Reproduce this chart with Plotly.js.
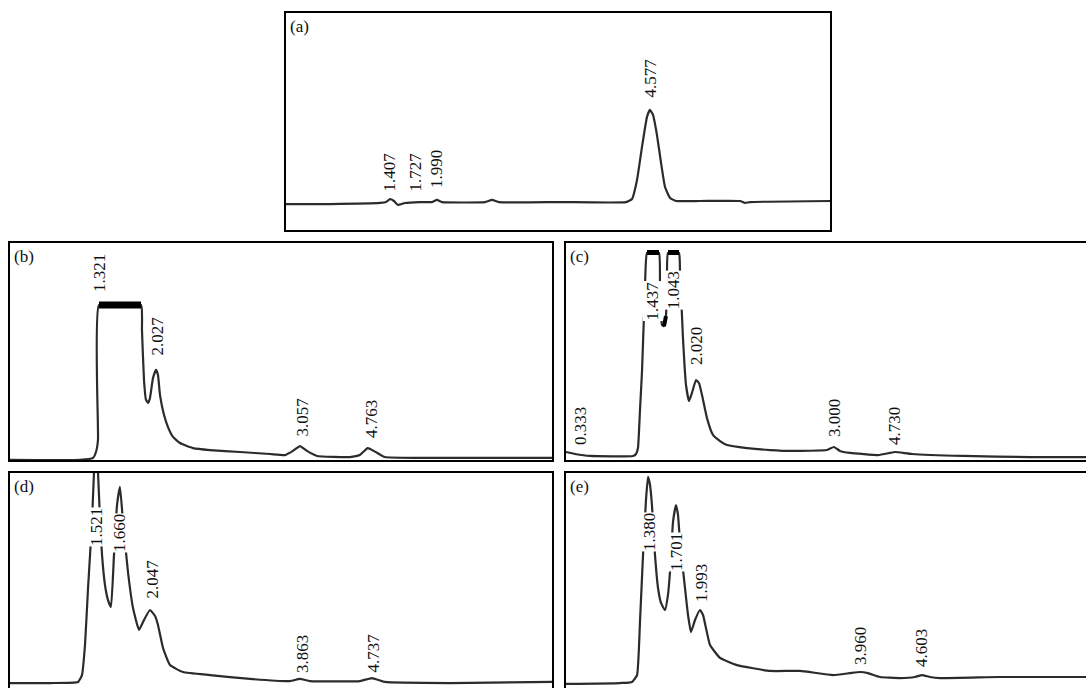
<!DOCTYPE html>
<html>
<head>
<meta charset="utf-8">
<script src="https://cdn.plot.ly/plotly-3.0.1.min.js"></script>
<style>html,body{margin:0;padding:0;background:#fff;}#chart{width:1086px;height:688px;}</style>
</head>
<body>
<div id="chart"></div>
<script>
// ---- Data (x: retention time scale, min; y: detector response, % of panel full scale) ----
// Panel (a)
const aTime = [0, 0.577, 1.218, 1.295, 1.346, 1.397, 1.449, 1.538, 1.731, 1.885, 1.949, 2.013, 2.564, 2.654, 2.744, 3.526, 4.372, 4.449, 4.513, 4.577, 4.641, 4.679, 4.718, 4.769, 4.821, 4.872, 4.936, 5.013, 5.321, 5.833, 5.897, 5.962, 7.0];
const aSignal = [12.3, 12.3, 12.8, 13.2, 14.6, 13.7, 11.9, 12.8, 13.2, 13.2, 14.2, 13.2, 13.2, 14.2, 13.2, 13.2, 13.2, 14.6, 23.3, 38.4, 52.1, 55.3, 53.0, 43.8, 31.1, 20.1, 15.1, 13.7, 13.7, 13.7, 12.8, 13.2, 13.7];
const aLabels = ["1.407", "1.727", "1.990", "4.577"];
const aLabelX = [1.346, 1.667, 1.949, 4.692];
const aLabelY = [17.8, 17.4, 19.2, 60.7];

// Panel (b)
const bTime = [0, 0.914, 1.081, 1.119, 1.145, 1.158, 1.428, 1.699, 1.711, 1.737, 1.763, 1.789, 1.814, 1.853, 1.892, 1.917, 1.943, 1.995, 2.046, 2.110, 2.200, 2.368, 2.586, 2.972, 3.358, 3.551, 3.654, 3.744, 3.834, 3.963, 4.384, 4.513, 4.616, 4.719, 4.835, 5.285, 6.314, 7.0];
const bSignal = [0.5, 0.5, 1.4, 4.1, 9.6, 71.2, 71.2, 71.2, 59.8, 37.0, 27.9, 26.5, 28.8, 37.9, 41.6, 39.3, 30.1, 21.0, 15.5, 11.0, 8.2, 5.9, 5.0, 4.1, 3.2, 2.7, 4.6, 6.8, 4.6, 2.3, 1.8, 2.7, 5.9, 4.1, 1.8, 1.4, 1.4, 1.4];
const bSatTime = [1.158, 1.428, 1.699];
const bSatSignal = [71.2, 71.2, 71.2];
const bLabels = ["1.321", "2.027", "3.057", "4.763"];
const bLabelX = [1.158, 1.917, 3.770, 4.658];
const bLabelY = [76.7, 47.9, 11.0, 10.0];

// Panel (c)
const cTime = [0.013, 0.129, 0.322, 0.875, 0.914, 0.939, 0.965, 0.991, 1.029, 1.055, 1.132, 1.210, 1.222, 1.248, 1.274, 1.299, 1.312, 1.325, 1.402, 1.467, 1.480, 1.518, 1.557, 1.596, 1.634, 1.686, 1.724, 1.763, 1.827, 1.904, 1.995, 2.085, 2.342, 2.638, 2.934, 3.371, 3.461, 3.538, 3.667, 4.028, 4.182, 4.246, 4.465, 5.122, 5.984, 6.704];
const cSignal = [4.1, 3.2, 2.3, 2.3, 3.2, 5.9, 23.3, 41.1, 79.0, 95.0, 95.4, 95.0, 78.1, 62.1, 61.6, 66.2, 78.1, 95.0, 95.4, 95.0, 86.8, 56.2, 34.7, 27.4, 31.1, 37.0, 35.6, 30.1, 19.6, 11.9, 9.1, 7.3, 5.9, 5.0, 4.6, 5.0, 6.4, 4.6, 3.7, 2.7, 3.7, 4.1, 3.2, 2.3, 1.8, 1.8];
const cSat1Time = [1.055, 1.132, 1.210];
const cSat1Signal = [95.2, 95.4, 95.2];
const cSat2Time = [1.325, 1.402, 1.467];
const cSat2Signal = [95.2, 95.4, 95.2];
const cDipTime = [1.274, 1.299];
const cDipSignal = [61.6, 66.2];
const cLabels = ["0.333", "1.437", "1.043", "2.020", "3.000", "4.730"];
const cLabelX = [0.193, 1.132, 1.390, 1.699, 3.461, 4.233];
const cLabelY = [6.8, 63.9, 68.9, 43.4, 10.5, 6.8];
const cLabelBg = [false, true, true, false, false, false];

// Panel (d)
const dTime = [0, 0.528, 0.888, 0.939, 0.978, 1.017, 1.068, 1.094, 1.119, 1.145, 1.171, 1.197, 1.235, 1.274, 1.312, 1.351, 1.390, 1.428, 1.467, 1.531, 1.596, 1.673, 1.737, 1.814, 1.879, 1.917, 1.982, 2.072, 2.239, 2.586, 3.101, 3.616, 3.744, 3.873, 4.517, 4.671, 4.835, 5.671, 7.0];
const dSignal = [2.3, 2.3, 2.8, 6.0, 19.9, 46.3, 76.9, 100, 109, 100, 77.8, 61.6, 47.7, 40.7, 37.5, 61.6, 84.7, 93.1, 76.9, 53.7, 37.0, 26.9, 31.5, 36.1, 33.3, 29.2, 18.5, 10.6, 7.4, 6.0, 4.2, 3.2, 4.2, 3.2, 3.2, 4.6, 2.8, 2.3, 2.8];
const dLabels = ["1.521", "1.660", "2.047", "3.863", "4.737"];
const dLabelX = [1.132, 1.415, 1.853, 3.783, 4.684];
const dLabelY = [65.3, 62.5, 40.7, 6.5, 6.5];
const dLabelBg = [true, true, false, false, false];

// Panel (e)
const eTime = [0.013, 0.708, 0.862, 0.927, 0.965, 1.004, 1.042, 1.068, 1.094, 1.119, 1.158, 1.197, 1.235, 1.287, 1.325, 1.351, 1.390, 1.428, 1.454, 1.480, 1.544, 1.583, 1.621, 1.673, 1.737, 1.776, 1.814, 1.866, 1.995, 2.213, 2.638, 3.024, 3.449, 3.667, 3.796, 3.899, 4.053, 4.311, 4.504, 4.594, 4.697, 4.825, 5.598, 6.704];
const eSignal = [1.9, 2.3, 2.8, 6.0, 30.6, 61.6, 87.0, 97.7, 94.0, 84.7, 61.6, 46.3, 39.4, 36.1, 43.1, 53.7, 76.9, 84.7, 80.1, 67.6, 46.3, 33.8, 25.9, 31.5, 36.1, 33.8, 27.8, 19.9, 13.9, 10.6, 7.9, 7.9, 6.0, 6.9, 7.4, 6.9, 5.1, 4.6, 5.1, 6.0, 5.1, 4.6, 5.1, 5.1];
const eLabels = ["1.380", "1.701", "1.993", "3.960", "4.603"];
const eLabelX = [1.094, 1.428, 1.763, 3.809, 4.594];
const eLabelY = [63.0, 53.7, 39.4, 10.2, 9.3];
const eLabelBg = [true, true, false, false, false];

const panelNames = ["(a)", "(b)", "(c)", "(d)", "(e)"];

// ---- Layout geometry (pixel boxes of each panel in the 1086x688 figure) ----
const W = 1086, H = 688;
const boxes = [
  {l: 285, r: 831, t: 12, b: 231, xmax: 7.0},
  {l: 9, r: 553, t: 242, b: 461, xmax: 7.0},
  {l: 565, r: 1086, t: 242, b: 461, xmax: 6.704},
  {l: 9, r: 553, t: 472, b: 688, xmax: 7.0},
  {l: 565, r: 1086, t: 472, b: 688, xmax: 6.704}
];
const LINE = {color: '#2b2b2b', width: 2.2};
const FONT = {family: 'Liberation Serif, Times New Roman, serif', size: 17, color: '#111'};

const traces = [];
const annotations = [];
const shapes = [];
const layout = {
  width: W, height: H,
  margin: {l: 0, r: 0, t: 0, b: 0},
  paper_bgcolor: '#fff', plot_bgcolor: '#fff',
  showlegend: false,
  font: FONT
};

function axisKey(i) { return i === 0 ? '' : String(i + 1); }

const series = [
  {x: aTime, y: aSignal, lx: aLabelX, ly: aLabelY, lt: aLabels, bg: null, extra: []},
  {x: bTime, y: bSignal, lx: bLabelX, ly: bLabelY, lt: bLabels, bg: null, extra: [[bSatTime, bSatSignal, 7]]},
  {x: cTime, y: cSignal, lx: cLabelX, ly: cLabelY, lt: cLabels, bg: cLabelBg, extra: [[cSat1Time, cSat1Signal, 5], [cSat2Time, cSat2Signal, 5], [cDipTime, cDipSignal, 4]]},
  {x: dTime, y: dSignal, lx: dLabelX, ly: dLabelY, lt: dLabels, bg: dLabelBg, extra: []},
  {x: eTime, y: eSignal, lx: eLabelX, ly: eLabelY, lt: eLabels, bg: eLabelBg, extra: []}
];

series.forEach((s, i) => {
  const k = axisKey(i);
  const bx = boxes[i];
  const xref = 'x' + k, yref = 'y' + k;
  layout['xaxis' + k] = {
    domain: [bx.l / W, bx.r / W], range: [0, bx.xmax], anchor: yref,
    showgrid: false, zeroline: false, showticklabels: false, ticks: '', showline: false, fixedrange: true
  };
  layout['yaxis' + k] = {
    domain: [1 - bx.b / H, 1 - bx.t / H], range: [0, 100], anchor: xref,
    showgrid: false, zeroline: false, showticklabels: false, ticks: '', showline: false, fixedrange: true
  };
  traces.push({x: s.x, y: s.y, xaxis: xref, yaxis: yref, type: 'scatter', mode: 'lines',
    line: {color: LINE.color, width: LINE.width, shape: 'spline', smoothing: 0.4}, hoverinfo: 'skip'});
  s.extra.forEach(e => {
    traces.push({x: e[0], y: e[1], xaxis: xref, yaxis: yref, type: 'scatter', mode: 'lines',
      line: {color: '#000', width: e[2]}, hoverinfo: 'skip'});
  });
  s.lt.forEach((t, j) => {
    const useBg = s.bg && s.bg[j];
    annotations.push({
      x: s.lx[j], y: s.ly[j], xref: xref, yref: yref, text: t, showarrow: false,
      textangle: -90, xanchor: 'center', yanchor: 'bottom', font: FONT,
      bgcolor: useBg ? '#ffffff' : 'rgba(0,0,0,0)', borderpad: 0
    });
  });
  // panel letter
  annotations.push({
    x: (bx.l + 3) / W, y: 1 - (bx.t + 3) / H, xref: 'paper', yref: 'paper', text: panelNames[i],
    showarrow: false, xanchor: 'left', yanchor: 'top', font: FONT
  });
  // frame
  shapes.push({
    type: 'rect', xref: 'paper', yref: 'paper',
    x0: bx.l / W, x1: bx.r >= W ? 1.02 : bx.r / W,
    y0: bx.b >= H ? -0.02 : 1 - bx.b / H, y1: 1 - bx.t / H,
    line: {color: '#000', width: 2}, fillcolor: 'rgba(0,0,0,0)', layer: 'above'
  });
});

layout.annotations = annotations;
layout.shapes = shapes;

Plotly.newPlot('chart', traces, layout, {displayModeBar: false, staticPlot: true});
</script>
</body>
</html>
